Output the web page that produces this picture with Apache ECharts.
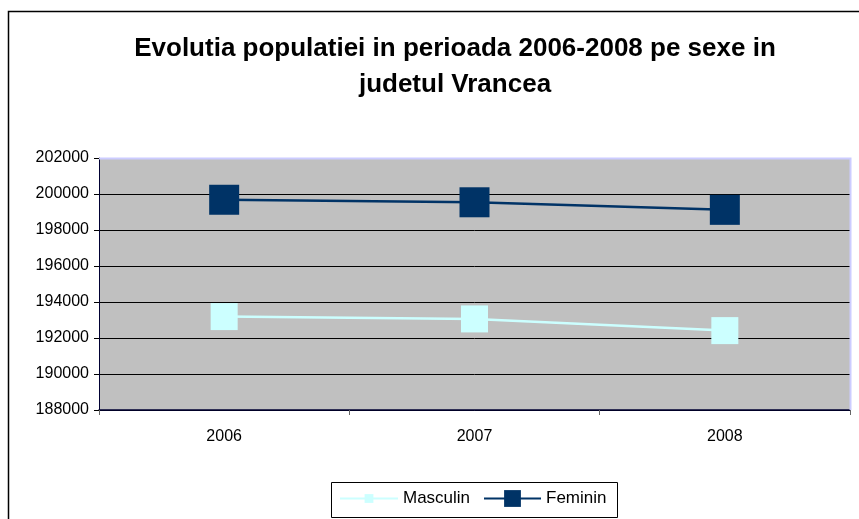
<!DOCTYPE html>
<html>
<head>
<meta charset="utf-8">
<script src="https://cdn.jsdelivr.net/npm/echarts@6/dist/echarts.min.js"></script>
<style>
  html, body { margin: 0; padding: 0; background: #fff; }
  #chart { width: 859px; height: 519px; }
</style>
</head>
<body>
<div id="chart"></div>
<script>
var years = ['2006', '2007', '2008']
var masculin = [193190, 193060, 192410]
var feminin = [199680, 199540, 199120]

var chart = echarts.init(document.getElementById('chart'))

var font = 'Arial, "Liberation Sans", sans-serif'

var option = {
    backgroundColor: '#fff',
    animation: false,
    title: {
        text: 'Evolutia populatiei in perioada 2006-2008 pe sexe in\njudetul Vrancea',
        left: 455,
        top: 31,
        padding: 0,
        textAlign: 'center',
        textStyle: {
            fontFamily: font,
            fontSize: 26,
            fontWeight: 'bold',
            color: '#000',
            lineHeight: 36
        }
    },
    graphic: [
        // outer chart frame
        {
            type: 'rect',
            shape: {x: 8.5, y: 11.5, width: 900, height: 600},
            style: {fill: null, stroke: '#000', lineWidth: 1.5},
            silent: true
        },
        // legend box
        {
            type: 'rect',
            shape: {x: 331.5, y: 482.5, width: 286, height: 35},
            style: {fill: '#fff', stroke: '#000', lineWidth: 1},
            z: 0,
            silent: true
        },
        // light border on top and right of plot
        {
            type: 'polyline',
            shape: {points: [[99, 158.5], [850.5, 158.5], [850.5, 410]]},
            style: {stroke: '#ccccff', lineWidth: 2, fill: null},
            z: 1,
            silent: true
        }
    ],
    legend: [
        {
            data: ['Masculin'],
            left: 339,
            top: 490,
            padding: 0,
            itemWidth: 58,
            itemHeight: 11,
            itemGap: 0,
            textStyle: {fontFamily: font, fontSize: 17, color: '#000'}
        },
        {
            data: ['Feminin'],
            left: 483,
            top: 490,
            padding: 0,
            itemWidth: 57,
            itemHeight: 21,
            itemGap: 0,
            textStyle: {fontFamily: font, fontSize: 17, color: '#000'}
        }
    ],
    grid: {
        left: 99,
        right: 9,
        top: 158,
        bottom: 109,
        show: true,
        backgroundColor: '#c0c0c0',
        borderWidth: 0
    },
    xAxis: {
        type: 'category',
        data: years,
        boundaryGap: true,
        axisLine: {lineStyle: {color: '#000033', width: 1.5}},
        axisTick: {show: true, length: 5, lineStyle: {color: '#666'}},
        axisLabel: {fontFamily: font, fontSize: 16, color: '#000', margin: 19}
    },
    yAxis: {
        type: 'value',
        min: 188000,
        max: 202000,
        interval: 2000,
        axisLine: {show: true, lineStyle: {color: '#000033', width: 1}},
        axisTick: {show: true, length: 5, lineStyle: {color: '#000'}},
        axisLabel: {
            fontFamily: font, fontSize: 16, color: '#000', margin: 10,
            formatter: function (v) { return String(v) }
        },
        splitLine: {lineStyle: {color: '#000', width: 1}}
    },
    series: [
        {
            name: 'Masculin',
            type: 'line',
            data: masculin,
            symbol: 'rect',
            symbolSize: 27,
            color: '#ccffff',
            lineStyle: {color: '#ccffff', width: 2.5},
            itemStyle: {color: '#ccffff'},
            z: 3
        },
        {
            name: 'Feminin',
            type: 'line',
            data: feminin,
            symbol: 'rect',
            symbolSize: 30,
            color: '#003366',
            lineStyle: {color: '#003366', width: 2.5},
            itemStyle: {color: '#003366'},
            z: 3
        }
    ]
}

chart.setOption(option)
</script>
</body>
</html>
